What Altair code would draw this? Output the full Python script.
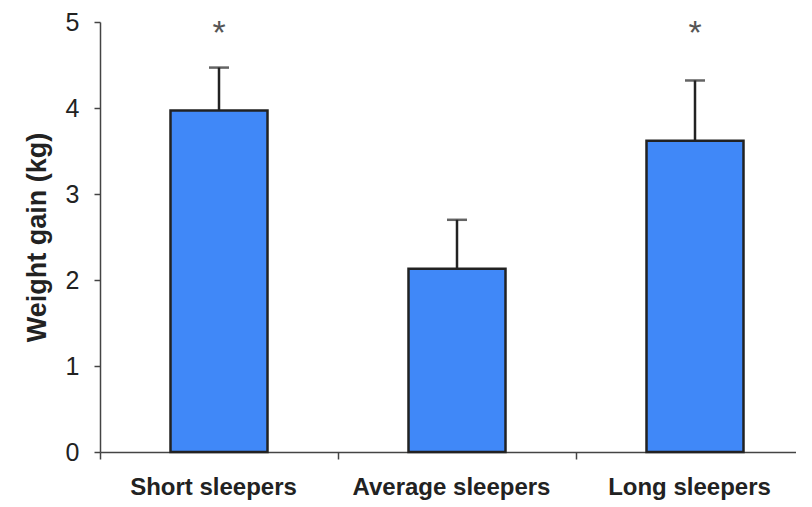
import altair as alt
import pandas as pd

categories = ["Short sleepers", "Average sleepers", "Long sleepers"]
gain = [3.97, 2.13, 3.62]
error_top = [4.47, 2.70, 4.32]
significant = ["*", "", "*"]
star_level = 4.93
y_ticks = [0, 1, 2, 3, 4, 5]

df = pd.DataFrame({"group": categories, "gain": gain, "err": error_top, "sig": significant})

xscale = alt.Scale(domain=categories, range=[0, 714], paddingInner=0, paddingOuter=0)
x_enc = alt.X(
    "group:N", sort=categories, scale=xscale,
    axis=alt.Axis(
        title=None, labelAngle=0, tickBand="extent", tickSize=7, tickWidth=1.5,
        tickColor="#444", domainColor="#444", domainWidth=1.5,
        labelFont="Liberation Sans", labelFontWeight="bold", labelFontSize=24,
        labelColor="#222", labelPadding=16, labelOffset=-6, labelLimit=400, grid=False,
    ),
)
yscale = alt.Scale(domain=[0, 5], nice=False)
y_enc = alt.Y(
    "gain:Q", scale=yscale,
    axis=alt.Axis(
        values=y_ticks, format="d", title="Weight gain (kg)", titleFont="Liberation Sans",
        titleFontSize=27, titleFontWeight="bold", titleColor="#222",
        titleX=-63, titleY=215, titleAlign="center", titleBaseline="middle", titleAngle=270,
        labelFont="Liberation Sans", labelFontSize=25, labelColor="#222", labelPadding=15,
        tickSize=6, tickWidth=1.5, tickColor="#444", domainColor="#444", domainWidth=1.5,
        grid=False,
    ),
)

base = alt.Chart(df)
bars = base.mark_bar(width=97, color="#4088F8", stroke="#222", strokeWidth=2.5).encode(x=x_enc, y=y_enc)
stems = base.mark_rule(color="#222", strokeWidth=2.5).encode(x=x_enc, y=alt.Y("gain:Q", scale=yscale), y2="err:Q")
caps = base.mark_tick(orient="horizontal", size=20, thickness=2.5, color="#222").encode(
    x=x_enc, y=alt.Y("err:Q", scale=yscale))
stars = base.transform_filter("datum.sig != ''").mark_text(
    font="Liberation Sans", fontSize=34, color="#555", baseline="middle", dy=6
).encode(x=x_enc, y=alt.datum(star_level), text="sig:N")

chart = alt.layer(stems, caps, bars, stars).properties(
    width=696, height=430,
    autosize=alt.AutoSizeParams(type="none"),
    padding={"left": 92, "top": 14, "right": 0, "bottom": 50},
    background="white",
).configure_view(stroke=None)

chart.save("out.html", embed_options={"renderer": "svg", "actions": False})
